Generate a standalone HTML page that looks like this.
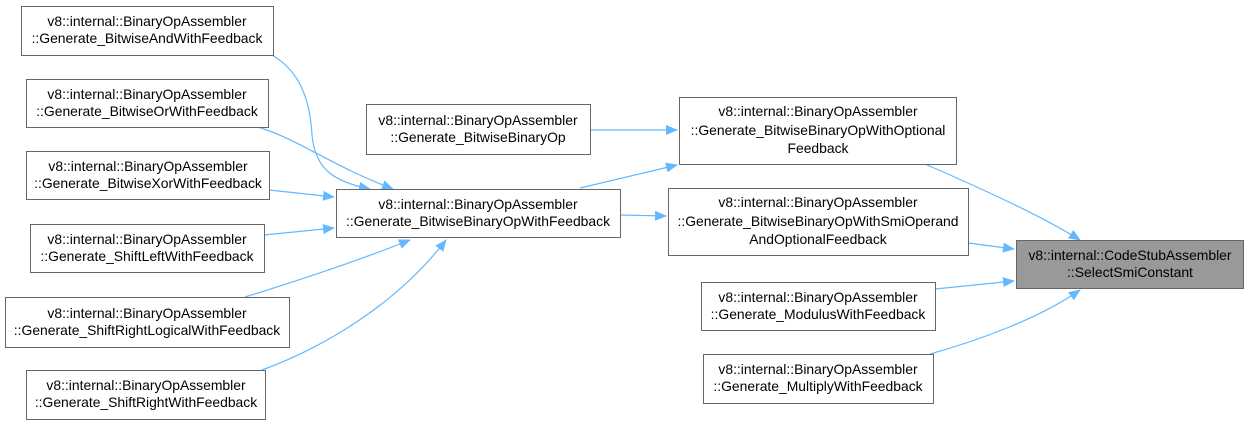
<!DOCTYPE html>
<html><head><meta charset="utf-8"><style>
html,body{margin:0;padding:0;background:#fff;}
svg{display:block;}
text{font-family:"Liberation Sans",sans-serif;font-size:13.9px;fill:#000;text-anchor:middle;}
</style></head><body>
<svg width="1248" height="426" viewBox="0 0 1248 426" xmlns="http://www.w3.org/2000/svg">
<defs><marker id="a" markerWidth="12" markerHeight="10" refX="11" refY="5" orient="auto" markerUnits="userSpaceOnUse"><path d="M0,0 L12,5 L0,10 z" fill="#63b8ff"/></marker></defs>
<g fill="none" stroke="#63b8ff" stroke-width="1.2" marker-end="url(#a)">
<path d="M270,54 C300,70 310,100 312,135 C315,170 335,182 370,189"/>
<path d="M258,127 C300,140 330,165 393,189"/>
<path d="M269,190 L334,197"/>
<path d="M264,235 L334,228"/>
<path d="M245,297 C300,280 360,260 410,240"/>
<path d="M262,370 C330,345 400,300 446,240"/>
<path d="M590,130 L677,130"/>
<path d="M580,188 L677,165"/>
<path d="M620,215 L666,216"/>
<path d="M925,164 C980,188 1040,215 1080,240"/>
<path d="M968,243 L1014,249"/>
<path d="M935,289 L1014,281"/>
<path d="M930,354 C980,340 1040,318 1080,290"/>
</g>
<g fill="#fff" stroke="#666" stroke-width="1">
<rect x="21.5" y="6.5" width="252" height="49"/>
<rect x="26.5" y="79.5" width="242" height="48"/>
<rect x="26.5" y="151.5" width="243" height="48"/>
<rect x="30.5" y="224.5" width="234" height="48"/>
<rect x="5.5" y="297.5" width="284" height="50"/>
<rect x="26.5" y="370.5" width="239" height="49"/>
<rect x="366.5" y="104.5" width="224" height="50"/>
<rect x="336.5" y="189.5" width="284" height="48"/>
<rect x="679.5" y="97.5" width="277" height="67"/>
<rect x="668.5" y="188.5" width="300" height="67"/>
<rect x="701.5" y="282.5" width="234" height="48"/>
<rect x="703.5" y="354.5" width="230" height="49"/>
<rect x="1016.5" y="240.5" width="227" height="48" fill="#999"/>
</g>
<text x="147" y="26">v8::internal::BinaryOpAssembler</text><text x="147" y="43">::Generate_BitwiseAndWithFeedback</text>
<text x="147" y="99">v8::internal::BinaryOpAssembler</text><text x="147" y="116">::Generate_BitwiseOrWithFeedback</text>
<text x="148" y="171">v8::internal::BinaryOpAssembler</text><text x="148" y="188">::Generate_BitwiseXorWithFeedback</text>
<text x="147" y="244">v8::internal::BinaryOpAssembler</text><text x="147" y="261">::Generate_ShiftLeftWithFeedback</text>
<text x="147" y="318">v8::internal::BinaryOpAssembler</text><text x="147" y="335">::Generate_ShiftRightLogicalWithFeedback</text>
<text x="146" y="390">v8::internal::BinaryOpAssembler</text><text x="146" y="407">::Generate_ShiftRightWithFeedback</text>
<text x="478" y="125">v8::internal::BinaryOpAssembler</text><text x="478" y="142">::Generate_BitwiseBinaryOp</text>
<text x="478" y="209">v8::internal::BinaryOpAssembler</text><text x="478" y="226">::Generate_BitwiseBinaryOpWithFeedback</text>
<text x="818" y="116">v8::internal::BinaryOpAssembler</text><text x="818" y="135">::Generate_BitwiseBinaryOpWithOptional</text><text x="818" y="153">Feedback</text>
<text x="818" y="207">v8::internal::BinaryOpAssembler</text><text x="818" y="226">::Generate_BitwiseBinaryOpWithSmiOperand</text><text x="818" y="244">AndOptionalFeedback</text>
<text x="818" y="302">v8::internal::BinaryOpAssembler</text><text x="818" y="319">::Generate_ModulusWithFeedback</text>
<text x="818" y="374">v8::internal::BinaryOpAssembler</text><text x="818" y="391">::Generate_MultiplyWithFeedback</text>
<text x="1130" y="260">v8::internal::CodeStubAssembler</text><text x="1130" y="277">::SelectSmiConstant</text>
</svg>
</body></html>
